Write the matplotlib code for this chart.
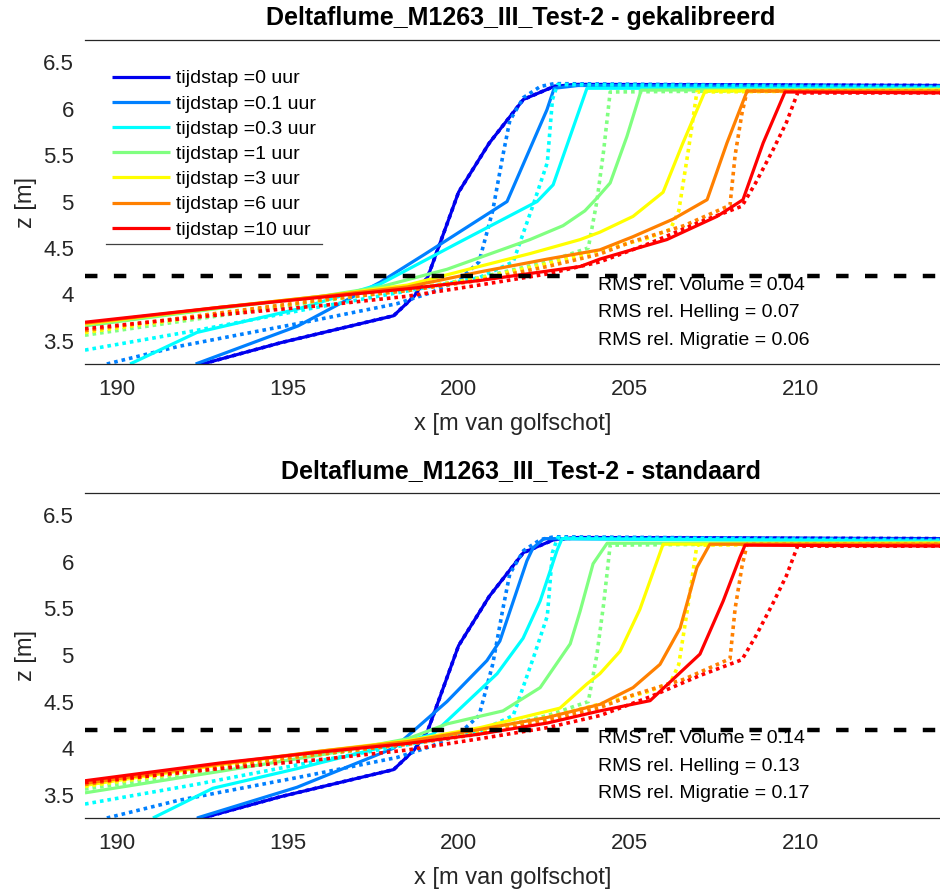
import matplotlib

matplotlib.use("Agg")
import matplotlib.pyplot as plt
from matplotlib.lines import Line2D

plt.rcParams["font.family"] = ["Liberation Sans", "DejaVu Sans"]

timeLabels = ["0", "0.1", "0.3", "1", "3", "6", "10"]
lineColors = ["#0000EE", "#0080FF", "#00FFFF", "#80FF80", "#FFFF00", "#FF8000", "#FF0000"]

# beginprofiel (t = 0 uur), gemeten en model vallen samen
initX = [192.3, 194.8, 198.1, 198.7, 199.1, 200.0, 200.9, 201.9, 202.8, 203.5, 214.5]
initZ = [3.23, 3.48, 3.77, 3.98, 4.19, 5.10, 5.63, 6.10, 6.24, 6.26, 6.25]

# gemeten profielen (stippellijn), zelfde in beide panelen
meas01X = [189.7, 191.8, 193.5, 195.5, 198.2, 199.2, 200.0, 200.6, 201.0, 201.3, 201.5, 201.9, 202.4, 202.8, 214.5]
meas01Z = [3.25, 3.44, 3.56, 3.70, 3.90, 4.02, 4.15, 4.35, 4.90, 5.50, 5.87, 6.12, 6.24, 6.27, 6.24]
meas03X = [189.06, 192.3, 195.7, 198.7, 200.6, 201.6, 202.2, 202.6, 202.75, 202.9, 214.5]
meas03Z = [3.40, 3.61, 3.85, 4.05, 4.18, 4.35, 4.98, 5.42, 6.10, 6.26, 6.23]
meas1X = [189.06, 193.0, 196.0, 198.5, 200.6, 202.6, 203.8, 204.05, 204.25, 204.44, 214.5]
meas1Z = [3.56, 3.77, 3.93, 4.05, 4.18, 4.35, 4.50, 5.00, 5.55, 6.18, 6.21]
meas3X = [189.06, 193.0, 196.0, 198.5, 200.6, 202.6, 204.1, 205.5, 206.2, 206.45, 206.75, 206.98, 214.5]
meas3Z = [3.59, 3.79, 3.94, 4.05, 4.17, 4.33, 4.47, 4.60, 4.70, 4.90, 5.60, 6.18, 6.20]
meas6X = [189.06, 193.0, 196.0, 198.5, 200.6, 202.6, 204.1, 205.1, 206.6, 207.95, 208.1, 208.3, 208.45, 214.5]
meas6Z = [3.61, 3.80, 3.94, 4.04, 4.15, 4.30, 4.43, 4.57, 4.74, 4.96, 5.50, 5.95, 6.19, 6.19]
meas10X = [189.06, 193.0, 196.0, 198.5, 200.6, 202.6, 204.14, 205.6, 207.07, 208.3, 208.7, 209.2, 209.6, 209.93, 214.5]
meas10Z = [3.63, 3.78, 3.88, 3.98, 4.10, 4.22, 4.35, 4.55, 4.78, 4.95, 5.20, 5.55, 5.85, 6.17, 6.17]

# model gekalibreerd (doorgetrokken lijn)
cal01X = [192.3, 195.3, 197.7, 199.0, 201.42, 202.59, 202.8, 203.5, 214.5]
cal01Z = [3.25, 3.66, 4.13, 4.43, 5.00, 5.99, 6.22, 6.25, 6.23]
cal03X = [190.38, 192.34, 195.27, 197.7, 199.96, 202.3, 202.77, 203.76, 214.5]
cal03Z = [3.25, 3.59, 3.84, 4.11, 4.55, 5.00, 5.18, 6.22, 6.22]
cal1X = [189.06, 193.0, 196.0, 197.7, 199.66, 202.09, 203.06, 203.7, 204.06, 204.44, 204.93, 205.35, 214.5]
cal1Z = [3.66, 3.85, 3.98, 4.08, 4.27, 4.59, 4.74, 4.90, 5.04, 5.20, 5.70, 6.20, 6.21]
cal3X = [189.06, 193.0, 196.0, 198.5, 200.6, 202.1, 203.56, 204.14, 205.11, 205.99, 206.57, 207.22, 214.5]
cal3Z = [3.68, 3.86, 3.98, 4.10, 4.30, 4.44, 4.59, 4.67, 4.84, 5.10, 5.63, 6.19, 6.20]
cal6X = [189.06, 193.0, 196.0, 198.5, 200.6, 202.6, 204.14, 205.1, 206.28, 207.28, 207.86, 208.45, 214.5]
cal6Z = [3.69, 3.86, 3.98, 4.08, 4.24, 4.38, 4.48, 4.62, 4.81, 5.02, 5.63, 6.19, 6.19]
cal10X = [189.06, 193.0, 196.0, 198.5, 200.63, 203.56, 204.14, 206.1, 207.57, 208.33, 208.92, 209.56, 214.5]
cal10Z = [3.70, 3.86, 3.97, 4.06, 4.15, 4.30, 4.38, 4.59, 4.84, 5.02, 5.63, 6.18, 6.17]

# model standaard (doorgetrokken lijn)
std01X = [192.34, 195.27, 198.1, 199.66, 200.83, 201.21, 202.0, 202.18, 202.5, 214.5]
std01Z = [3.25, 3.58, 4.00, 4.50, 4.94, 5.15, 6.01, 6.15, 6.25, 6.23]
std03X = [191.05, 192.81, 195.27, 198.2, 199.25, 201.13, 201.89, 202.39, 202.88, 203.03, 214.5]
std03Z = [3.25, 3.57, 3.78, 4.05, 4.15, 4.80, 5.18, 5.58, 6.12, 6.25, 6.22]
std1X = [189.06, 193.0, 196.0, 198.5, 199.66, 201.3, 202.39, 203.27, 203.56, 203.94, 204.35, 214.5]
std1Z = [3.52, 3.75, 3.93, 4.10, 4.26, 4.40, 4.65, 5.12, 5.47, 5.98, 6.20, 6.21]
std3X = [189.06, 193.0, 196.0, 198.5, 200.63, 202.97, 203.76, 204.14, 204.73, 205.31, 205.99, 214.5]
std3Z = [3.60, 3.82, 3.97, 4.08, 4.22, 4.43, 4.69, 4.80, 5.04, 5.49, 6.19, 6.20]
std6X = [189.06, 193.0, 196.0, 198.5, 200.6, 202.6, 204.14, 205.11, 205.9, 206.49, 206.98, 207.36, 214.5]
std6Z = [3.62, 3.83, 3.97, 4.07, 4.20, 4.33, 4.47, 4.65, 4.90, 5.29, 5.94, 6.19, 6.19]
std10X = [189.06, 193.0, 196.0, 198.5, 200.6, 202.6, 204.14, 205.61, 207.07, 207.75, 208.24, 208.39, 214.5]
std10Z = [3.65, 3.84, 3.96, 4.05, 4.15, 4.27, 4.40, 4.51, 5.01, 5.58, 6.05, 6.18, 6.17]

rmsNames = ["Volume", "Helling", "Migratie"]
rmsCalibrated = [0.04, 0.07, 0.06]
rmsStandard = [0.14, 0.13, 0.17]

xTickLabels = [190, 195, 200, 205, 210]
yTickLabels = [3.5, 4, 4.5, 5, 5.5, 6, 6.5]
xGridValues = [190, 200, 210]
yGridCalibrated = [3.5, 5, 6]
yGridStandard = [4, 4.5, 5.5, 6]
waterLevel = 4.2

FIG_W, FIG_H = 940, 893
AX_LEFT, AX_RIGHT = 85, 940


def drawPanel(axis, modelProfiles, measProfiles, rmsValues, yGrid, title, titleY, showLegend):
    solidHandles = []
    for idx in range(len(timeLabels)):
        mx, mz = modelProfiles[idx]
        gx, gz = measProfiles[idx]
        (solidLine,) = axis.plot(mx, mz, color=lineColors[idx], lw=2.3, solid_capstyle="butt",
                                 label=f"tijdstap ={timeLabels[idx]} uur", zorder=2)
        axis.plot(gx, gz, color=lineColors[idx], lw=2.6, linestyle=(0, (1, 1.1)),
                  dash_capstyle="butt", zorder=2)
        solidHandles.append(solidLine)

    axis.axhline(waterLevel, color="black", lw=3.2, dashes=(2.8, 3.7), zorder=4)

    axis.set_xlim(189.06, 214.1)
    axis.set_ylim(3.25, 6.74)
    axis.set_xticks(xTickLabels)
    axis.set_xticklabels([str(v) for v in xTickLabels])
    axis.set_yticks(yTickLabels)
    axis.set_yticklabels([f"{v:g}" for v in yTickLabels])
    axis.set_xticks(xGridValues, minor=True)
    axis.set_yticks(yGrid, minor=True)
    axis.tick_params(which="major", length=0, labelsize=16, colors="#262626")
    axis.tick_params(axis="x", which="major", pad=11)
    axis.tick_params(axis="y", which="major", pad=8)
    axis.tick_params(which="minor", direction="in", length=8, width=0.8, color="#404040",
                     top=True, bottom=True, left=True, right=True)
    axis.grid(which="minor", color="#e3e3e3", lw=1.0, zorder=0)
    axis.set_axisbelow(True)
    for side in ["left", "right"]:
        axis.spines[side].set_visible(False)
    for side in ["top", "bottom"]:
        axis.spines[side].set_color("#262626")
        axis.spines[side].set_linewidth(0.9)

    axis.set_xlabel("x [m van golfschot]", fontsize=17, color="#262626", va="center")
    axis.set_ylabel("z [m]", fontsize=17, color="#262626", va="center")
    axis.xaxis.set_label_coords(0.5, -0.185)
    axis.yaxis.set_label_coords(-0.069, 0.5)

    for rowIdx, name in enumerate(rmsNames):
        axis.text(204.08, 4.10 - rowIdx * 0.296, f"RMS rel. {name} = {rmsValues[rowIdx]:.2f}",
                  fontsize=14, ha="left", va="center", color="black", zorder=5)

    axis.figure.text(521 / FIG_W, 1 - titleY / FIG_H, title, fontsize=18, fontweight="bold",
                     ha="center", va="center")

    if showLegend:
        legend = axis.legend(handles=solidHandles, loc="upper left",
                             bbox_to_anchor=((106 - AX_LEFT) / (AX_RIGHT - AX_LEFT), (364 - 64) / 324),
                             borderaxespad=0, borderpad=0.3, fontsize=14, handlelength=3.0,
                             handletextpad=0.3, labelspacing=0.39, frameon=True, fancybox=False,
                             framealpha=1.0, facecolor="white", edgecolor="none")
        legend.set_zorder(6)
        return legend
    return None


def main():
    fig = plt.figure(figsize=(FIG_W / 100, FIG_H / 100), dpi=100)
    axWidth = (AX_RIGHT - AX_LEFT) / FIG_W
    topAxis = fig.add_axes([AX_LEFT / FIG_W, 1 - 364 / FIG_H, axWidth, 324 / FIG_H])
    bottomAxis = fig.add_axes([AX_LEFT / FIG_W, 1 - 818 / FIG_H, axWidth, 325 / FIG_H])

    initProfile = (initX, initZ)
    measProfiles = [initProfile, (meas01X, meas01Z), (meas03X, meas03Z), (meas1X, meas1Z),
                    (meas3X, meas3Z), (meas6X, meas6Z), (meas10X, meas10Z)]
    calProfiles = [initProfile, (cal01X, cal01Z), (cal03X, cal03Z), (cal1X, cal1Z),
                   (cal3X, cal3Z), (cal6X, cal6Z), (cal10X, cal10Z)]
    stdProfiles = [initProfile, (std01X, std01Z), (std03X, std03Z), (std1X, std1Z),
                   (std3X, std3Z), (std6X, std6Z), (std10X, std10Z)]

    legend = drawPanel(topAxis, calProfiles, measProfiles, rmsCalibrated, yGridCalibrated,
                       "Deltaflume_M1263_III_Test-2 - gekalibreerd", 18, True)
    drawPanel(bottomAxis, stdProfiles, measProfiles, rmsStandard, yGridStandard,
              "Deltaflume_M1263_III_Test-2 - standaard", 471, False)

    # onderrand van de legenda als losse lijn
    fig.canvas.draw()
    box = legend.get_window_extent().transformed(fig.transFigure.inverted())
    fig.add_artist(Line2D([box.x0, box.x1], [box.y0, box.y0], color="#404040", lw=0.9,
                          transform=fig.transFigure, zorder=10))

    fig.savefig("out.png", dpi=100)
    plt.close(fig)


if __name__ == "__main__":
    main()
